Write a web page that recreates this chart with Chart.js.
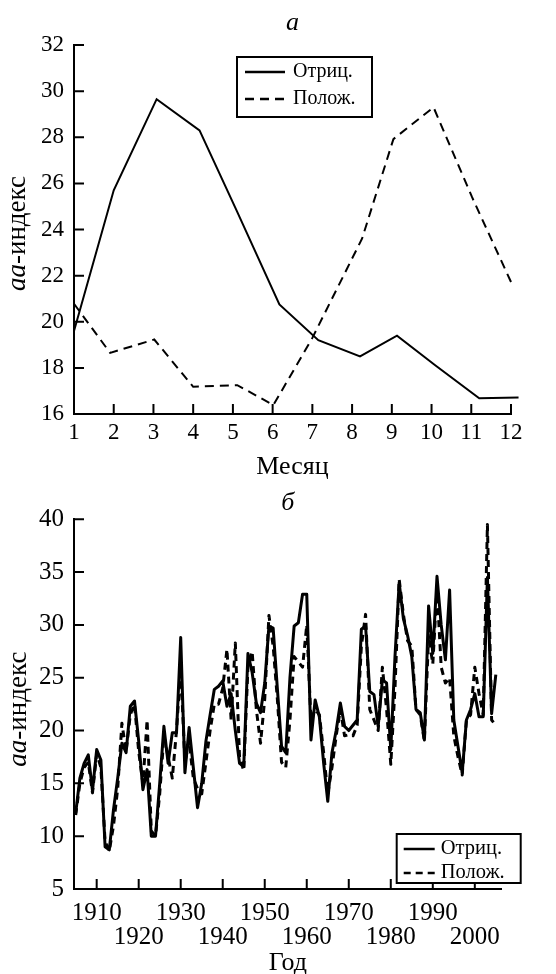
<!DOCTYPE html>
<html>
<head>
<meta charset="utf-8">
<script src="https://cdn.jsdelivr.net/npm/chart.js@4.4.1/dist/chart.umd.min.js"></script>
<style>
  html, body { margin: 0; padding: 0; background: #fff; }
  canvas { position: absolute; left: 0; }
  #chartA { top: 0; }
  #chartB { top: 480px; }
</style>
</head>
<body>
<canvas id="chartA" width="556" height="480"></canvas>
<canvas id="chartB" width="556" height="494"></canvas>
<script>
// Panel "а": mean aa-index by month for negative / positive polarity.
const negMonth   = [1, 2, 3.08, 4.16, 5.1, 6.17, 7.15, 8.2, 9.13, 10.1, 11.2, 12.19];
const negMonthly = [19.6, 25.7, 29.65, 28.3, 24.8, 20.75, 19.2, 18.5, 19.4, 18.1, 16.68, 16.72];
const posMonth   = [1, 1.91, 3.02, 4.0, 5.11, 6.02, 7.0, 8.25, 9.04, 10.05, 11.02, 12.02];
const posMonthly = [20.78, 18.65, 19.23, 17.18, 17.25, 16.39, 19.3, 23.6, 27.92, 29.3, 25.4, 21.65];

// Panel "б": yearly aa-index, 1905..2005.
const FIRST_YEAR = 1905;
const negAnnual = [
  12.2, 15.5, 16.9, 17.7, 14.3, 18.2, 17.2, 9.0, 8.7, 12.5,
  15.5, 18.8, 17.9, 22.3, 22.8, 19.0, 14.4, 16.3, 10.0, 10.0,
  15.0, 20.4, 16.9, 19.8, 19.8, 28.8, 16.0, 20.3, 16.5, 12.7,
  15.0, 19.0, 21.5, 23.9, 24.2, 24.7, 22.3, 23.5, 20.0, 16.9,
  16.6, 27.3, 25.5, 22.6, 21.7, 24.5, 29.9, 29.7, 24.0, 18.5,
  17.9, 25.0, 29.9, 30.2, 32.9, 32.9, 19.1, 22.9, 21.3, 17.0,
  13.3, 17.9, 20.0, 22.6, 20.4, 20.0, 20.5, 21.0, 29.6, 29.9,
  23.7, 23.4, 20.4, 24.8, 24.5, 18.2, 27.0, 34.0, 30.6, 29.0,
  27.0, 22.0, 21.7, 19.1, 31.8, 27.3, 34.6, 30.0, 26.7, 33.3,
  21.0, 18.5, 16.0, 21.0, 22.0, 23.5, 21.3, 21.3, 34.5, 21.6,
  25.3
];
const posAnnual = [
  12.0, 15.0, 16.5, 17.0, 14.1, 17.8, 16.5, 9.5, 8.6, 11.0,
  14.5, 20.7, 18.0, 21.5, 22.5, 18.0, 15.0, 21.0, 10.5, 10.0,
  14.0, 19.5, 17.5, 15.5, 20.0, 26.0, 17.0, 19.0, 15.5, 14.5,
  14.0, 17.0, 20.0, 22.5, 22.5, 24.0, 27.7, 21.0, 28.3, 17.5,
  16.2, 26.0, 27.5, 22.0, 18.8, 23.0, 30.9, 28.0, 23.0, 17.0,
  16.5, 21.0, 27.0, 26.5, 26.0, 30.0, 21.0, 22.0, 21.5, 18.0,
  14.0, 16.5, 19.5, 22.0, 19.5, 19.6, 19.5, 20.5, 28.0, 31.0,
  22.0, 21.0, 20.0, 26.0, 22.0, 16.8, 24.0, 34.3, 31.0, 28.5,
  28.0, 22.0, 21.5, 19.0, 29.0, 26.3, 33.5, 26.0, 24.5, 25.0,
  19.5, 17.5, 15.8, 21.0, 21.5, 26.0, 23.5, 21.5, 39.5, 21.0,
  20.5
];
const years = negAnnual.map((_, i) => FIRST_YEAR + i);

const seriesLabels = ["Отриц.", "Полож."];

const SERIF = '"Liberation Serif", "Times New Roman", serif';
Chart.defaults.font.family = SERIF;
Chart.defaults.color = "#000";

const pts = (xs, ys) => xs.map((x, i) => ({ x, y: ys[i] }));
const serif = (size, extra = {}) => ({ family: SERIF, size, lineHeight: 1, ...extra });

// Tick marks pointing into the plot, like the printed figure.
const innerTicks = {
  id: "innerTicks",
  afterDraw(chart, args, o) {
    const { ctx, chartArea: a, scales } = chart;
    ctx.save();
    ctx.strokeStyle = "#000";
    ctx.lineWidth = 2;
    ctx.beginPath();
    scales.x.ticks.forEach((t, i) => {
      const px = scales.x.getPixelForTick(i);
      ctx.moveTo(px, a.bottom); ctx.lineTo(px, a.bottom - o.length);
    });
    scales.y.ticks.forEach((t, i) => {
      const py = scales.y.getPixelForTick(i);
      ctx.moveTo(a.left, py); ctx.lineTo(a.left + o.length, py);
    });
    ctx.stroke();
    ctx.restore();
  },
};

// Rotated y title with the italic "аа" prefix.
const yTitle = {
  id: "yTitle",
  afterDraw(chart, args, o) {
    const { ctx, chartArea: a } = chart;
    const fIt = `italic ${o.size}px ${SERIF}`;
    const fRm = `${o.size}px ${SERIF}`;
    ctx.save();
    ctx.font = fIt; const w1 = ctx.measureText(o.italic).width;
    ctx.font = fRm; const w2 = ctx.measureText(o.rest).width;
    ctx.translate(o.x, (a.top + a.bottom) / 2 + o.dy);
    ctx.rotate(-Math.PI / 2);
    ctx.fillStyle = "#000";
    ctx.textBaseline = "middle";
    ctx.textAlign = "left";
    const start = -(w1 + w2) / 2;
    ctx.font = fIt; ctx.fillText(o.italic, start, 0);
    ctx.font = fRm; ctx.fillText(o.rest, start + w1, 0);
    ctx.restore();
  },
};

// Framed legend placed inside the plot.
const boxLegend = {
  id: "boxLegend",
  afterDraw(chart, args, o) {
    const ctx = chart.ctx;
    ctx.save();
    ctx.fillStyle = "#fff";
    ctx.fillRect(o.left, o.top, o.width, o.height);
    ctx.strokeStyle = "#000";
    ctx.lineWidth = 2;
    ctx.strokeRect(o.left, o.top, o.width, o.height);
    chart.data.datasets.forEach((ds, i) => {
      const y = o.top + o.firstRow + i * o.rowGap;
      ctx.beginPath();
      ctx.setLineDash(ds.borderDash || []);
      ctx.lineWidth = o.sampleWidth;
      ctx.moveTo(o.left + o.lineStart, y);
      ctx.lineTo(o.left + o.lineStart + o.lineLen, y);
      ctx.stroke();
      ctx.setLineDash([]);
      ctx.fillStyle = "#000";
      ctx.font = `${o.fontSize}px ${SERIF}`;
      ctx.textBaseline = "middle";
      ctx.fillText(ds.label, o.left + o.textStart, y);
    });
    ctx.restore();
  },
};

function axisBase(fontSize) {
  return {
    type: "linear",
    grid: { display: false, drawTicks: false },
    border: { display: true, color: "#000", width: 2 },
    ticks: { color: "#000", font: serif(fontSize), autoSkip: false, maxRotation: 0, minRotation: 0 },
  };
}

// ---- panel а ----
new Chart(document.getElementById("chartA"), {
  type: "line",
  data: {
    datasets: [
      { label: seriesLabels[0], data: pts(negMonth, negMonthly), borderColor: "#000", borderWidth: 2, clip: false },
      { label: seriesLabels[1], data: pts(posMonth, posMonthly), borderColor: "#000", borderWidth: 2, borderDash: [9, 6], clip: false },
    ],
  },
  options: {
    responsive: false,
    animation: false,
    layout: { padding: { left: 0, right: 45, top: 0, bottom: 0 } },
    elements: { point: { radius: 0 }, line: { tension: 0 } },
    scales: {
      x: {
        ...axisBase(23),
        min: 1, max: 12,
        ticks: { ...axisBase(23).ticks, stepSize: 1, padding: 7 },
        title: { display: true, text: "Месяц", color: "#000", font: serif(26), padding: { top: 0, bottom: 0 } },
        afterFit: (s) => { s.height = 66; },
      },
      y: {
        ...axisBase(23),
        min: 16, max: 32,
        ticks: { ...axisBase(23).ticks, stepSize: 2, padding: 10 },
        afterFit: (s) => { s.width = 74; },
      },
    },
    plugins: {
      legend: { display: false },
      tooltip: { enabled: false },
      title: {
        display: true, text: "а", fullSize: false, color: "#000",
        font: serif(26, { style: "italic", weight: "normal" }),
        padding: { top: 10, bottom: 9 },
      },
      innerTicks: { length: 10 },
      yTitle: { italic: "аа", rest: "-индекс", size: 27, x: 18, dy: 4 },
      boxLegend: { left: 237, top: 57, width: 135, height: 60, lineStart: 8, lineLen: 40, textStart: 56, firstRow: 15, rowGap: 27, fontSize: 20, sampleWidth: 2.5 },
    },
  },
  plugins: [innerTicks, yTitle, boxLegend],
});

// ---- panel б ----
new Chart(document.getElementById("chartB"), {
  type: "line",
  data: {
    datasets: [
      { label: seriesLabels[0], data: pts(years, negAnnual), borderColor: "#000", borderWidth: 3, borderJoinStyle: "round" },
      { label: seriesLabels[1], data: pts(years, posAnnual), borderColor: "#000", borderWidth: 3, borderDash: [7, 5], borderJoinStyle: "round" },
    ],
  },
  options: {
    responsive: false,
    animation: false,
    layout: { padding: { left: 0, right: 54.3, top: 0, bottom: 0 } },
    elements: { point: { radius: 0 }, line: { tension: 0 } },
    scales: {
      x: {
        ...axisBase(25),
        min: 1904.6, max: 2006.4,
        ticks: {
          ...axisBase(25).ticks,
          font: serif(25, { lineHeight: 0.94 }),
          stepSize: 10, includeBounds: false, padding: 13,
          callback: (v) => (v % 20 === 10 ? String(v) : ["", String(v)]),
        },
        afterBuildTicks: (s) => { s.ticks = s.ticks.filter((t) => t.value % 10 === 0); },
        title: { display: true, text: "Год", color: "#000", font: serif(26), padding: { top: 0, bottom: -2.5 } },
        afterFit: (s) => { s.height = 85; },
      },
      y: {
        ...axisBase(25),
        min: 5, max: 40,
        ticks: { ...axisBase(25).ticks, stepSize: 5, padding: 10 },
        afterFit: (s) => { s.width = 74; },
      },
    },
    plugins: {
      legend: { display: false },
      tooltip: { enabled: false },
      title: {
        display: true, text: "б", fullSize: false, color: "#000",
        font: serif(26, { style: "italic", weight: "normal" }),
        padding: { top: 10, bottom: 3.3 },
      },
      innerTicks: { length: 10 },
      yTitle: { italic: "аа", rest: "-индекс", size: 27, x: 19, dy: 5 },
      boxLegend: { left: 396.7, top: 354, width: 124, height: 49, lineStart: 7, lineLen: 31, textStart: 44, firstRow: 15, rowGap: 24, fontSize: 20.5, sampleWidth: 2.5 },
    },
  },
  plugins: [innerTicks, yTitle, boxLegend],
});
</script>
</body>
</html>
